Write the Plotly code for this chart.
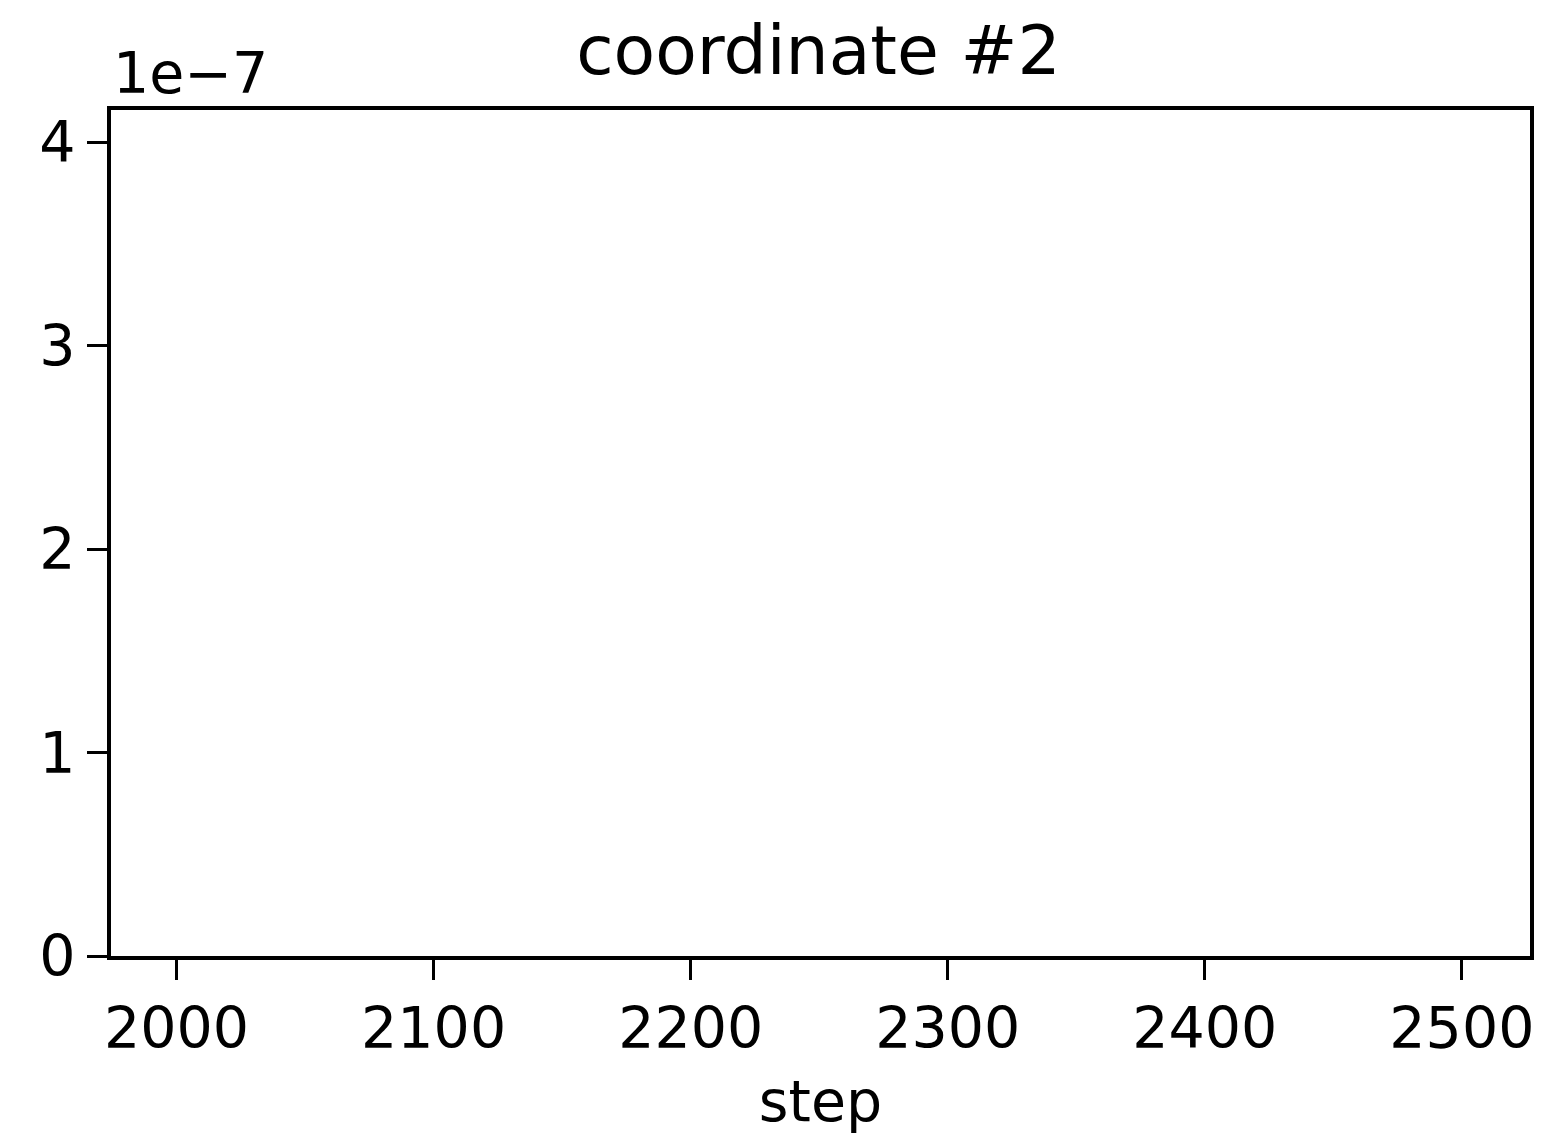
import plotly.graph_objects as go

# Data (the reference axes are empty: no visible series)
steps = []
values = []
x_ticks = [2000, 2100, 2200, 2300, 2400, 2500]
y_ticks = [0, 1e-7, 2e-7, 3e-7, 4e-7]
y_tick_labels = ["0", "1", "2", "3", "4"]
x_range = [1974.5, 2526.5]
y_range = [0, 4.16e-7]

FONT = "DejaVu Sans"
FS = 57
TITLE_FS = 68

fig = go.Figure()
fig.add_trace(go.Scatter(x=steps, y=values, mode="lines", line=dict(color="#1f77b4", width=3), showlegend=False))

fig.update_layout(
    width=1553, height=1135,
    margin=dict(l=111, r=23, t=110, b=177),
    paper_bgcolor="white", plot_bgcolor="white",
    font=dict(family=FONT, size=FS, color="black"),
    title=dict(text="coordinate #2", x=0.527, xanchor="center", y=0.956, yanchor="middle",
               font=dict(family=FONT, size=TITLE_FS, color="black")),
    showlegend=False,
)
fig.update_xaxes(
    range=x_range, tickvals=x_ticks, ticktext=[str(t) for t in x_ticks],
    ticks="outside", ticklen=20, tickwidth=3, tickcolor="black",
    showline=True, linecolor="black", linewidth=4, mirror=True,
    showgrid=False, zeroline=False,
    tickfont=dict(family=FONT, size=FS, color="black"),
    title=dict(text="step", standoff=22, font=dict(family=FONT, size=FS, color="black")),
)
fig.update_yaxes(
    range=y_range, tickvals=y_ticks, ticktext=y_tick_labels,
    ticks="outside", ticklen=20, tickwidth=3, tickcolor="black",
    showline=True, linecolor="black", linewidth=4, mirror=True,
    showgrid=False, zeroline=False,
    tickfont=dict(family=FONT, size=FS, color="black"),
)
fig.add_annotation(text="1e\u22127", xref="paper", yref="paper", x=0, y=1, xanchor="left", yanchor="bottom",
                   yshift=2, showarrow=False, font=dict(family=FONT, size=FS, color="black"))

fig.write_html("out.html")
